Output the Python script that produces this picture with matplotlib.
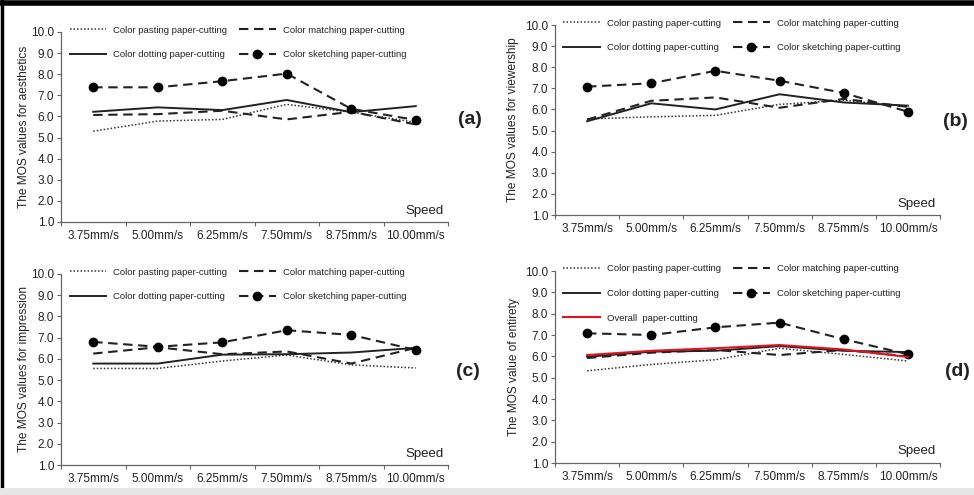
import matplotlib
matplotlib.use('Agg')
import matplotlib.pyplot as plt
import numpy as np
from matplotlib.lines import Line2D
from matplotlib.legend_handler import HandlerLine2D

plt.rcParams['font.family'] = ['Liberation Sans', 'DejaVu Sans']

speeds = ['3.75mm/s', '5.00mm/s', '6.25mm/s', '7.50mm/s', '8.75mm/s', '10.00mm/s']
y_ticks = [1.0, 2.0, 3.0, 4.0, 5.0, 6.0, 7.0, 8.0, 9.0, 10.0]

# panel (a) aesthetics
a_pasting = [5.3, 5.78, 5.86, 6.57, 6.2, 5.72]
a_matching = [6.07, 6.11, 6.27, 5.86, 6.22, 5.62]
a_dotting = [6.22, 6.43, 6.3, 6.78, 6.2, 6.49]
a_sketching = [7.38, 7.38, 7.67, 8.03, 6.36, 5.83]

# panel (b) viewership
b_pasting = [5.55, 5.65, 5.72, 6.24, 6.43, 6.15]
b_matching = [5.52, 6.41, 6.57, 6.08, 6.5, 6.12]
b_dotting = [5.44, 6.29, 6.0, 6.72, 6.33, 6.18]
b_sketching = [7.08, 7.24, 7.83, 7.36, 6.78, 5.89]

# panel (c) impression
c_pasting = [5.55, 5.55, 5.9, 6.18, 5.72, 5.57]
c_matching = [6.25, 6.55, 6.22, 6.35, 5.78, 6.52]
c_dotting = [5.78, 5.78, 6.2, 6.22, 6.3, 6.52]
c_sketching = [6.8, 6.57, 6.78, 7.35, 7.13, 6.42]

# panel (d) entirety
d_pasting = [5.32, 5.62, 5.84, 6.38, 6.09, 5.78]
d_matching = [5.92, 6.17, 6.3, 6.06, 6.3, 6.0]
d_dotting = [5.98, 6.22, 6.26, 6.48, 6.26, 6.2]
d_sketching = [7.08, 7.0, 7.36, 7.58, 6.8, 6.1]
d_overall = [6.06, 6.26, 6.38, 6.53, 6.32, 5.97]

FS_TICK = 8.5
FS_LEG = 6.8
TXT = '#222222'


class MarkerFirstHandler(HandlerLine2D):
    # marker drawn at the left end of the legend sample, like the original
    def get_xdata(self, legend, xdescent, ydescent, width, height, fontsize):
        xdata, _ = super().get_xdata(legend, xdescent, ydescent, width, height, fontsize)
        return xdata, [-xdescent + 0.12 * width]


def draw_panel(ax, pasting, matching, dotting, sketching, ylabel, label_x, overall=None):
    x = np.arange(len(speeds)) + 0.5
    h_past, = ax.plot(x, pasting, color='#333333', lw=1.1, linestyle=(0, (1, 1.3)))
    h_match, = ax.plot(x, matching, color='#222222', lw=1.5, linestyle=(0, (4.5, 2.7)))
    h_dot, = ax.plot(x, dotting, color='#222222', lw=1.4, linestyle='-')
    h_sketch, = ax.plot(x, sketching, color='#222222', lw=1.5, linestyle=(0, (4.5, 2.7)),
                        marker='o', markersize=6, markerfacecolor='black', markeredgecolor='black')
    handles = [h_past, h_dot]
    labels = ['Color pasting paper-cutting', 'Color dotting paper-cutting']
    if overall is not None:
        h_all, = ax.plot(x, overall, color='#e0141e', lw=1.5)
        handles.append(h_all)
        labels.append('Overall  paper-cutting')
    handles += [h_match, h_sketch]
    labels += ['Color matching paper-cutting', 'Color sketching paper-cutting']

    ax.set_xlim(0, len(speeds))
    ax.set_ylim(1.0, 10.0)
    ax.set_xticks(np.arange(len(speeds) + 1))
    ax.set_xticklabels([])
    ax.set_xticks(x, minor=True)
    ax.set_xticklabels(speeds, minor=True, fontsize=FS_TICK, color=TXT)
    ax.tick_params(axis='x', which='minor', length=0, pad=6)
    ax.tick_params(axis='x', which='major', length=3, width=0.8, color='#666666')
    ax.set_yticks(y_ticks)
    ax.set_yticklabels([f'{v:.1f}' for v in y_ticks], fontsize=FS_TICK, color=TXT)
    ax.tick_params(axis='y', length=3, width=0.8, color='#666666', pad=2)
    for side in ['top', 'right']:
        ax.spines[side].set_visible(False)
    for side in ['left', 'bottom']:
        ax.spines[side].set_color('#666666')
        ax.spines[side].set_linewidth(0.9)
    ax.set_ylabel(ylabel, fontsize=8.6, color=TXT)
    ax.yaxis.set_label_coords(label_x, 0.5)
    ax.legend(handles, labels, ncol=2, loc='upper left', bbox_to_anchor=(0.022, 1.034),
              frameon=False, fontsize=FS_LEG, handlelength=3.9, handletextpad=0.75,
              columnspacing=1.2, labelspacing=1.65, borderpad=0, borderaxespad=0,
              labelcolor=TXT, handler_map={h_sketch: MarkerFirstHandler()})
    ax.text(0.99, 0.06, 'Speed', transform=ax.transAxes, ha='right', va='center',
            fontsize=9.5, color=TXT)


def main():
    fig = plt.figure(figsize=(9.74, 4.95), dpi=100)
    W, H = 974, 495

    def axes_px(left, right, top, bottom):
        return fig.add_axes([left / W, 1 - bottom / H, (right - left) / W, (bottom - top) / H])

    ax_a = axes_px(61, 448, 32, 222)
    ax_b = axes_px(555, 940, 25, 215)
    ax_c = axes_px(61, 448, 274, 465)
    ax_d = axes_px(555, 940, 271, 463)

    draw_panel(ax_a, a_pasting, a_matching, a_dotting, a_sketching,
               'The MOS values for aesthetics', -0.08)
    draw_panel(ax_b, b_pasting, b_matching, b_dotting, b_sketching,
               'The MOS values for viewership', -0.094)
    draw_panel(ax_c, c_pasting, c_matching, c_dotting, c_sketching,
               'The MOS values for impression', -0.08)
    draw_panel(ax_d, d_pasting, d_matching, d_dotting, d_sketching,
               'The MOS value of entirety', -0.092, overall=d_overall)

    for lab, px, py in [('(a)', 470, 119), ('(b)', 955, 121), ('(c)', 468, 372), ('(d)', 957, 372)]:
        fig.text(px / W, 1 - py / H, lab, ha='center', va='center', fontsize=14,
                 fontweight='bold', color=TXT)

    # outer frame of the original figure
    fig.add_artist(Line2D([0, 1], [1 - 2.5 / H, 1 - 2.5 / H], color='black', lw=4, transform=fig.transFigure))
    fig.add_artist(Line2D([1.5 / W, 1.5 / W], [1, 1 - 488 / H], color='black', lw=2.5, transform=fig.transFigure))
    fig.add_artist(Line2D([0, 1], [1 - 491 / H, 1 - 491 / H], color='#e6e6e6', lw=5, transform=fig.transFigure))

    fig.savefig('out.png', dpi=100)


if __name__ == "__main__":
    main()
